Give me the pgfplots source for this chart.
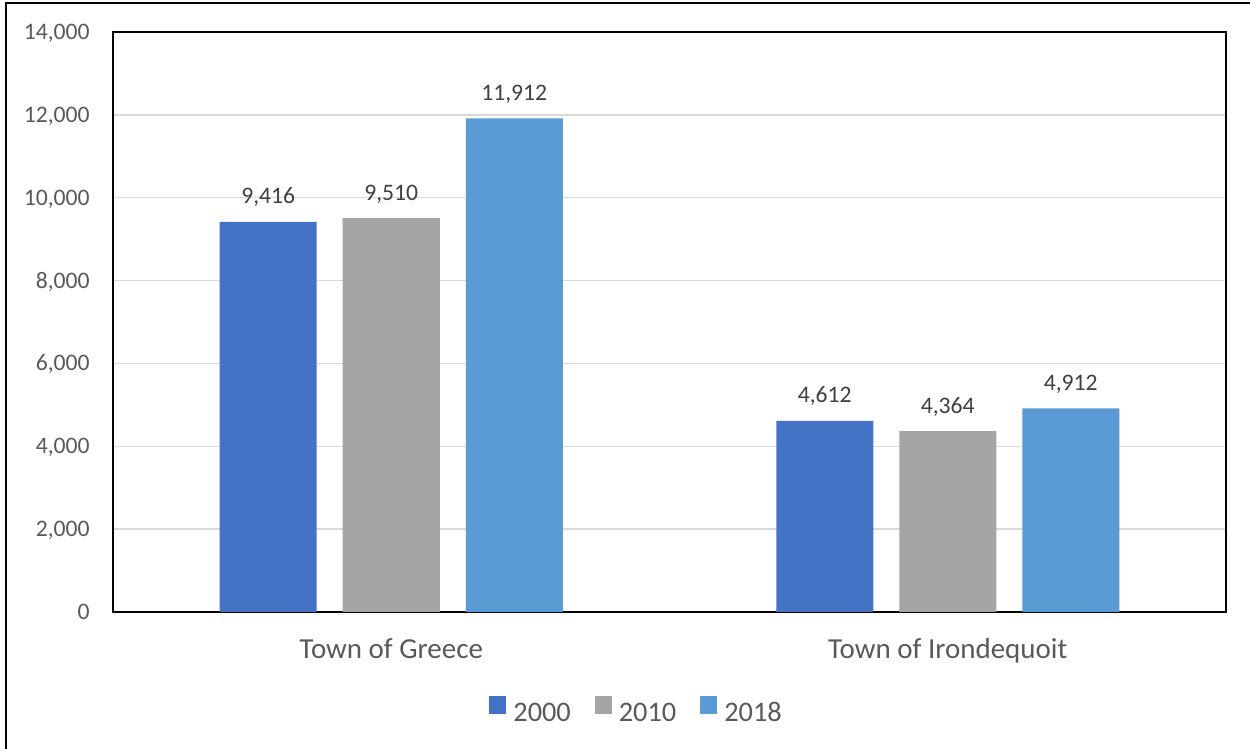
\documentclass[border=0pt]{standalone}
\usepackage{pgfplots}
\pgfplotsset{compat=1.18}
\usepackage{fontspec}
\setmainfont{Carlito}
\definecolor{cA}{HTML}{4472C4}
\definecolor{cB}{HTML}{A5A5A5}
\definecolor{cC}{HTML}{5B9BD5}
\definecolor{tickgray}{HTML}{595959}
\definecolor{labgray}{HTML}{404040}
\definecolor{gridgray}{HTML}{D9D9D9}
\begin{document}
\begin{tikzpicture}
\useasboundingbox (0,0) rectangle (750pt,449.4pt);
\begin{axis}[
  at={(67.8pt,82.2pt)}, anchor=south west,
  scale only axis,
  width=667.8pt, height=348pt,
  ybar=15.6pt, bar width=58.2pt,
  xmin=-0.5, xmax=1.5,
  ymin=0, ymax=14000,
  xtick={0,1},
  xticklabels={Town of Greece, Town of Irondequoit},
  ytick={0,2000,...,14000},
  scaled y ticks=false,
  /pgf/number format/assume math mode=true,
  /pgf/number format/1000 sep={,},
  major tick length=0pt,
  ymajorgrids,
  grid style={gridgray, line width=0.8pt},
  axis line style={black, line width=1.2pt},
  yticklabel style={font=\fontsize{14.2pt}{17pt}\selectfont, text=tickgray, anchor=base east, inner sep=0pt, xshift=-13.8pt, yshift=-4.5pt},
  xticklabel style={font=\fontsize{17.4pt}{21pt}\selectfont, text=tickgray, anchor=base, inner sep=0pt, yshift=-28.2pt},
  nodes near coords,
  every node near coord/.append style={font=\fontsize{14.2pt}{17pt}\selectfont, text=labgray, anchor=base, inner sep=0pt, yshift=10.8pt},
  legend columns=-1,
  legend style={draw=none, fill=none, inner sep=0pt, outer sep=0pt,
    at={(0.4695,-0.169)}, anchor=center,
    font=\fontsize{17pt}{20pt}\selectfont, text=tickgray,
    nodes={inner sep=0pt},
    /tikz/every even column/.append style={column sep=14.4pt}},
  legend image code/.code={\fill[#1] (0pt,0pt) rectangle (10.2pt,10.8pt); \path (14.4pt,0pt);},
]
\addplot[fill=cA, draw=none] coordinates {(0,9416) (1,4612)};
\addplot[fill=cB, draw=none] coordinates {(0,9510) (1,4364)};
\addplot[fill=cC, draw=none] coordinates {(0,11912) (1,4912)};
\legend{2000,2010,2018}
\end{axis}
\draw[black, line width=1.2pt] (3.6pt,0pt) -- (3.6pt,447.6pt) -- (750pt,447.6pt);
\end{tikzpicture}
\end{document}
